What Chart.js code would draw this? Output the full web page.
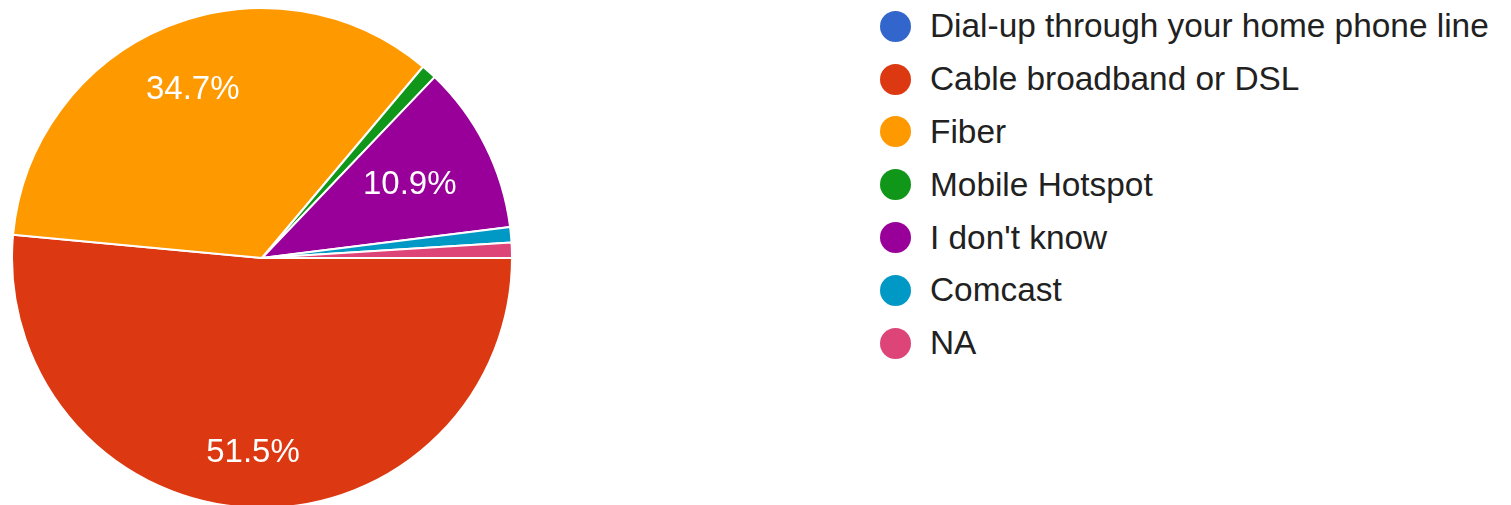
<!DOCTYPE html>
<html>
<head>
<meta charset="utf-8">
<script src="https://cdn.jsdelivr.net/npm/chart.js@4.4.1/dist/chart.umd.min.js"></script>
<style>
  html, body {
    margin: 0;
    padding: 0;
    width: 1511px;
    height: 505px;
    overflow: hidden;
    background: #fff;
    font-family: "Liberation Sans", Arial, sans-serif;
  }
  #pieWrap {
    position: absolute;
    left: 11px;
    top: 7px;
    width: 502px;
    height: 502px;
  }
  #legend {
    position: absolute;
    left: 880px;
    top: 0px;
    margin: 0;
    padding: 0;
    list-style: none;
  }
  #legend li {
    display: flex;
    align-items: center;
    height: 52.8px;
    font-size: 33.4px;
    color: #212121;
    white-space: nowrap;
  }
  #legend .dot {
    display: inline-block;
    width: 31px;
    height: 31px;
    border-radius: 50%;
    margin-right: 19px;
  }
</style>
</head>
<body>
<div id="pieWrap"><canvas id="pieChart" width="502" height="502"></canvas></div>
<ul id="legend"></ul>

<script>
// Answers and how many people picked each one
const answers = [
  "Dial-up through your home phone line",
  "Cable broadband or DSL",
  "Fiber",
  "Mobile Hotspot",
  "I don't know",
  "Comcast",
  "NA"
];
const responses = [0, 52, 35, 1, 11, 1, 1];
const sliceColors = ["#3366cc", "#dc3912", "#ff9900", "#109618", "#990099", "#0099c6", "#dd4477"];

// Percent text inside the bigger slices
const sliceLabels = {
  id: 'sliceLabels',
  afterDatasetsDraw(chart) {
    const ctx = chart.ctx;
    const values = chart.data.datasets[0].data;
    const total = values.reduce((a, b) => a + b, 0);
    const arcs = chart.getDatasetMeta(0).data;

    ctx.save();
    ctx.font = '33px "Liberation Sans", Arial, sans-serif';
    ctx.fillStyle = '#fff';
    ctx.textAlign = 'center';
    ctx.textBaseline = 'middle';
    arcs.forEach((arc, i) => {
      const share = values[i] / total;
      if (share < 0.05) return;
      const mid = (arc.startAngle + arc.endAngle) / 2;
      // wider slices get their label pushed further out
      const dist = arc.outerRadius * (0.63 + 0.29 * Math.min(share, 0.5));
      const x = arc.x + Math.cos(mid) * dist;
      const y = arc.y + Math.sin(mid) * dist + 1;
      ctx.fillText((share * 100).toFixed(1) + '%', x, y);
    });
    ctx.restore();
  }
};

const pie = new Chart(document.getElementById('pieChart'), {
  type: 'pie',
  data: {
    labels: answers,
    datasets: [{
      data: responses,
      backgroundColor: sliceColors,
      borderColor: '#fff',
      borderWidth: 2
    }]
  },
  options: {
    responsive: false,
    animation: false,
    rotation: 90,
    layout: { padding: 0 },
    plugins: {
      legend: { display: false },
      tooltip: { enabled: false }
    }
  },
  plugins: [sliceLabels]
});

// Legend built from the chart's own label items
const legendEl = document.getElementById('legend');
const items = Chart.overrides.pie.plugins.legend.labels.generateLabels(pie);
items.forEach(item => {
  const li = document.createElement('li');
  const dot = document.createElement('span');
  dot.className = 'dot';
  dot.style.background = item.fillStyle;
  li.appendChild(dot);
  li.appendChild(document.createTextNode(item.text));
  legendEl.appendChild(li);
});
</script>
</body>
</html>
